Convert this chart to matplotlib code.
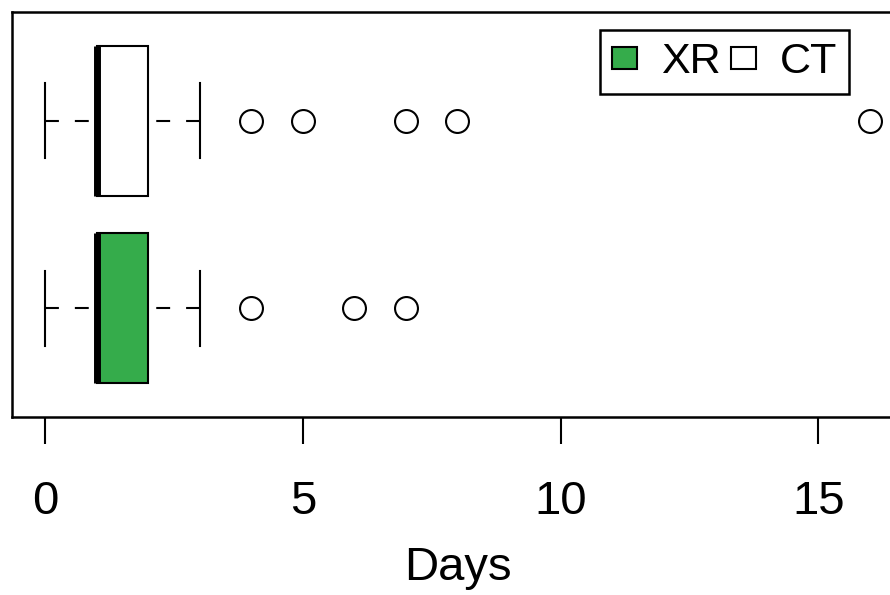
import matplotlib
matplotlib.use("Agg")
from matplotlib import pyplot as plt
from matplotlib.patches import Patch

plt.rcParams['font.family'] = ['Liberation Sans', 'DejaVu Sans']
plt.rcParams['lines.scale_dashes'] = False

# data: XR at position 1, CT at position 2
groups = ["XR", "CT"]
colors = ["#35ac4b", "white"]
whislo = [0, 0]
q1 = [1, 1]
med = [1, 1]
q3 = [2, 2]
whishi = [3, 3]
fliers = [[4, 6, 7], [4, 5, 7, 8, 16]]
xticks = [0, 5, 10, 15]

stats = []
for i in range(len(groups)):
    stats.append({"label": groups[i], "whislo": whislo[i], "q1": q1[i], "med": med[i],
                  "q3": q3[i], "whishi": whishi[i], "fliers": fliers[i]})

fig = plt.figure(figsize=(8.9, 5.95), dpi=100)
ax = fig.add_axes([12/890, (595-417)/595, 891/890, 405/595])

bp = ax.bxp(stats, positions=[1, 2], widths=0.8, orientation="horizontal",
            patch_artist=True, showfliers=True,
            boxprops=dict(linewidth=1.5, edgecolor="black"),
            medianprops=dict(color="black", linewidth=5, solid_capstyle="butt"),
            whiskerprops=dict(color="black", linewidth=1.5, linestyle=(0, (10, 11.5))),
            capprops=dict(color="black", linewidth=1.5),
            flierprops=dict(marker="o", markersize=16.5, markerfacecolor="white",
                            markeredgecolor="black", markeredgewidth=1.5),
            capwidths=0.4)
for patch, c in zip(bp["boxes"], colors):
    patch.set_facecolor(c)
# start dash pattern at the whisker end, like R
for w in bp["whiskers"]:
    w.set_xdata(w.get_xdata()[::-1])

ax.set_xlim(-0.64, 16.64)
ax.set_ylim(0.42, 2.58)
ax.set_yticks([])
ax.set_xticks(xticks)
ax.set_xticklabels([str(t) for t in xticks])
ax.tick_params(axis="x", direction="out", length=19.5, width=1.5, labelsize=34, pad=26)
for s in ax.spines.values():
    s.set_linewidth(1.8)
ax.set_xlabel("Days", fontsize=34, labelpad=16)

handles = [Patch(facecolor=c, edgecolor="black", linewidth=1.5) for c in colors]
fig.legend(handles, groups, loc="upper left", bbox_to_anchor=(600/890, 1-30/595),
           ncol=2, fontsize=31, frameon=True, fancybox=False, framealpha=1,
           edgecolor="black", handlelength=0.58, handleheight=0.4, handletextpad=0.55,
           columnspacing=0.25, borderpad=0.28, borderaxespad=0)
fig.legends[0].get_frame().set_linewidth(1.8)

fig.savefig("out.png", dpi=100)
